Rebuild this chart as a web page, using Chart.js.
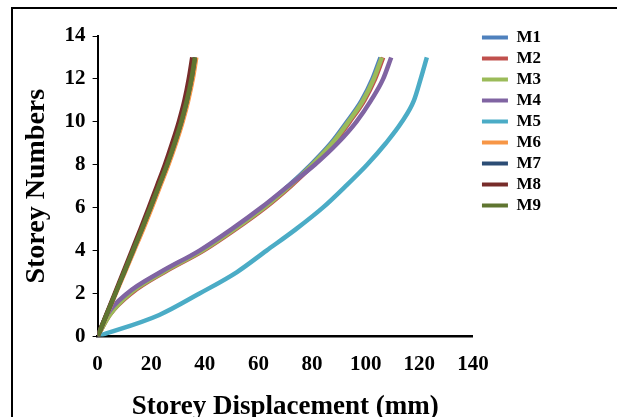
<!DOCTYPE html>
<html>
<head>
<meta charset="utf-8">
<script src="https://cdn.jsdelivr.net/npm/chart.js@4.4.1/dist/chart.umd.min.js"></script>
<style>
  html, body { margin: 0; padding: 0; background: #fff; overflow: hidden; }
  #wrap { position: relative; width: 617px; height: 445px; }
  #frame { position: absolute; left: 11px; top: 7px; width: 700px; height: 500px;
           border-left: 2px solid #000; border-top: 2px solid #000; pointer-events: none; }
</style>
</head>
<body>
<div id="wrap">
  <canvas id="chart" width="617" height="445"></canvas>
  <div id="frame"></div>
</div>
<script>
// storey numbers (y) and displacement in mm (x) per model
const storeys = [0, 1, 2, 3, 4, 5, 6, 7, 8, 9, 10, 11, 12, 13];
const seriesNames = ['M1', 'M2', 'M3', 'M4', 'M5', 'M6', 'M7', 'M8', 'M9'];
const M1 = [0, 4, 11.5, 24, 38.5, 50.5, 61.5, 71, 79.5, 87, 93, 98.5, 102.5, 105.5];
const M2 = [0, 4.5, 12.5, 25, 39.5, 51.5, 62.5, 72, 80.5, 88, 94, 99.5, 103.5, 106.5];
const M3 = [0, 4.5, 12, 24.5, 39, 51, 62, 71.5, 80, 87.5, 93.5, 99, 103, 106];
const M4 = [0, 3.5, 11, 23.5, 38, 50, 61, 71, 81, 89.5, 96.5, 102, 106.5, 109.5];
const M5 = [0, 23, 38, 52, 63, 74, 84, 92.5, 100.5, 107.5, 113.5, 118, 120.5, 122.8];
const M6 = [0, 3.4, 6.8, 10.2, 13.6, 17, 20.2, 23.3, 26.4, 29.2, 31.7, 33.8, 35.5, 36.8];
const M7 = [0, 3.3, 6.6, 9.9, 13.2, 16.5, 19.7, 22.8, 25.9, 28.7, 31.2, 33.3, 35, 36.3];
const M8 = [0, 3.2, 6.4, 9.6, 12.8, 16, 19.1, 22.1, 25.1, 27.8, 30.3, 32.4, 34, 35.3];
const M9 = [0, 3.3, 6.6, 9.9, 13.2, 16.5, 19.7, 22.8, 25.9, 28.7, 31.2, 33.3, 35, 36.3];
const seriesValues = [M1, M2, M3, M4, M5, M6, M7, M8, M9];
const colors = ['#4F81BD', '#C0504D', '#9BBB59', '#8064A2', '#4BACC6', '#F79646', '#2C4D75', '#772C2A', '#5F7530'];

const FONT = "'Liberation Serif', 'Times New Roman', serif";

const datasets = seriesNames.map((name, i) => ({
  label: name,
  data: seriesValues[i].map((x, k) => ({ x: x, y: storeys[k] })),
  borderColor: colors[i],
  backgroundColor: colors[i],
  borderWidth: 4.5,
  pointRadius: 0,
  cubicInterpolationMode: 'monotone',
  order: seriesNames.length - i // later series drawn on top, like the original
}));

// nudge the legend a few px right of where the layout puts it
const legendShift = {
  id: 'legendShift',
  afterLayout(chart) {
    chart.legend.left += 5;
    chart.legend.right += 5;
  }
};

const ctx = document.getElementById('chart').getContext('2d');
new Chart(ctx, {
  type: 'line',
  data: { datasets: datasets },
  plugins: [legendShift],
  options: {
    responsive: false,
    animation: false,
    layout: { padding: { left: 10, top: 25, right: 71, bottom: 18 } },
    plugins: {
      tooltip: { enabled: false },
      legend: {
        position: 'right',
        align: 'start',
        labels: {
          boxWidth: 26,
          boxHeight: 4,
          padding: 4,
          color: '#000',
          font: { family: FONT, size: 17, weight: 'bold' },
          generateLabels: (chart) =>
            Chart.defaults.plugins.legend.labels.generateLabels(chart)
              .map(l => ({ ...l, lineWidth: 0 }))
              .sort((a, b) => a.datasetIndex - b.datasetIndex)
        }
      }
    },
    scales: {
      x: {
        type: 'linear',
        min: 0,
        max: 140,
        ticks: { stepSize: 20, padding: 16, color: '#000', font: { family: FONT, size: 21, weight: 'bold' } },
        grid: { drawOnChartArea: false, drawTicks: false },
        border: { color: '#000', width: 2.5 },
        title: {
          display: true,
          text: 'Storey Displacement (mm)',
          color: '#000',
          font: { family: FONT, size: 27, weight: 'bold' },
          padding: { top: -3, bottom: 4 }
        }
      },
      y: {
        type: 'linear',
        min: 0,
        max: 14,
        afterFit: (scale) => { scale.paddingTop = 36; },
        ticks: { stepSize: 2, padding: 7, color: '#000', font: { family: FONT, size: 21, weight: 'bold' } },
        grid: { drawOnChartArea: false, drawTicks: true, tickLength: 5, color: '#000' },
        border: { color: '#000', width: 2 },
        title: {
          display: true,
          text: 'Storey Numbers',
          color: '#000',
          font: { family: FONT, size: 28, weight: 'bold' },
          padding: { top: 10, bottom: 4 }
        }
      }
    }
  }
});
</script>
</body>
</html>
